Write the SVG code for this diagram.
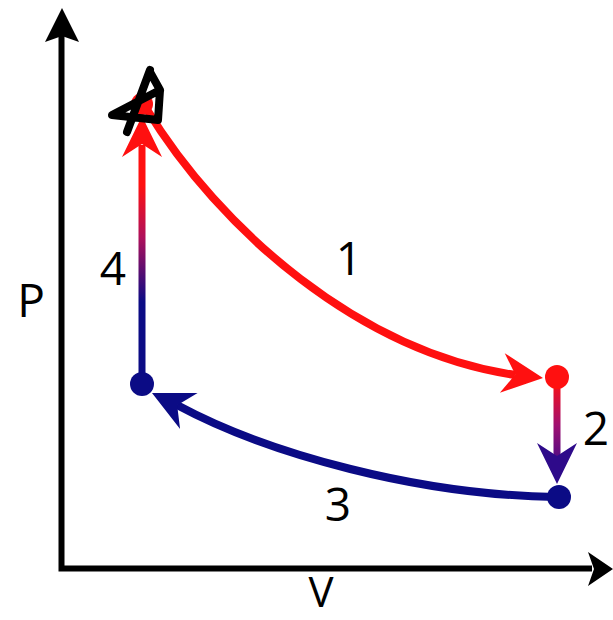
<svg xmlns="http://www.w3.org/2000/svg" width="613" height="620" viewBox="0 0 613 620">
<style>
.axis{stroke:#000;stroke-width:6;fill:none}
.lbl{font-family:"Open Sans","Liberation Sans",sans-serif;font-size:46px;fill:#000;text-anchor:middle}
.red{fill:#ff1010}
.navy{fill:#0b0b85}
.redS{stroke:#ff1010;stroke-width:8;fill:none}
.navyS{stroke:#0b0b85;stroke-width:8;fill:none}
</style>
<defs>
<path id="head" d="M0,0 L-41,-20 L-28,0 L-41,20 Z"/>
<linearGradient id="g4" gradientUnits="userSpaceOnUse" x1="0" y1="380" x2="0" y2="120">
<stop offset="0" stop-color="#0b0b85"/>
<stop offset="0.3" stop-color="#0b0b85"/>
<stop offset="0.55" stop-color="#b0105a"/>
<stop offset="0.75" stop-color="#ff1010"/>
<stop offset="1" stop-color="#ff1010"/>
</linearGradient>
<linearGradient id="g2" gradientUnits="userSpaceOnUse" x1="0" y1="380" x2="0" y2="470">
<stop offset="0" stop-color="#ff1010"/>
<stop offset="0.5" stop-color="#a01070"/>
<stop offset="1" stop-color="#3a0a8a"/>
</linearGradient>
</defs>
<g id="axes">
<path class="axis" d="M61.5,35 L61.5,568.5 L592,568.5"/>
<path d="M62,8 L79,42 L62,36 L45,42 Z" fill="#000"/>
<path d="M613,569 L588,552 L594,569 L588,586 Z" fill="#000"/>
</g>
<g id="connectors">
<path class="redS" d="M146,108 C220,230 360,352 515,375"/>
<use href="#head" class="red" transform="translate(543,378) rotate(7)"/>
<rect x="553.5" y="378" width="7" height="82" fill="url(#g2)"/>
<path d="M557,484 L537,443 L557,456 L577,443 Z" fill="#2e0a8a"/>
<path class="navyS" d="M556,497 C420,495 270,455 177,405"/>
<use href="#head" class="navy" transform="translate(152,393) rotate(206)"/>
<rect x="138.5" y="145" width="7" height="240" fill="url(#g4)"/>
<path d="M142,116 L162,157 L142,144 L122,157 Z" class="red"/>
</g>
<g id="node-top"><circle cx="142" cy="104" r="11" class="red"/></g>
<g id="node-right-top"><circle cx="557" cy="377" r="12" class="red"/></g>
<g id="node-right-bottom"><circle cx="559" cy="497" r="12" class="navy"/></g>
<g id="node-left-bottom"><circle cx="142" cy="384" r="12" class="navy"/></g>
<g id="scribble">
<path d="M150,70 L127,132 M150,72 L160,90 L158,120 L112,115 L160,90" stroke="#000" stroke-width="8" stroke-linecap="round" stroke-linejoin="round" fill="none"/>
</g>
<g id="labels">
<text class="lbl" x="349" y="275">1</text>
<text class="lbl" x="596" y="445">2</text>
<text class="lbl" x="338" y="521">3</text>
<text class="lbl" x="113" y="285">4</text>
<text class="lbl" x="31" y="317">P</text>
<text class="lbl" x="321" y="607" style="font-size:42px">V</text>
</g>
</svg>
